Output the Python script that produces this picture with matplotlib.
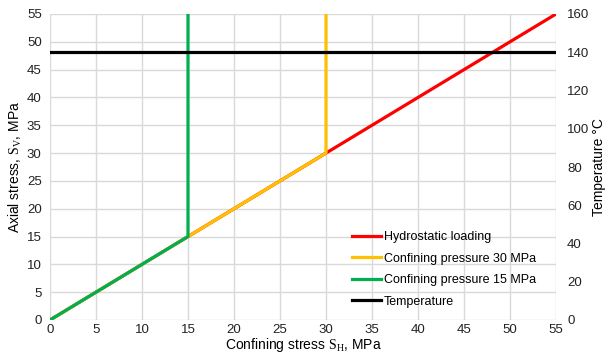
import matplotlib
matplotlib.use("Agg")
import matplotlib.pyplot as plt

plt.rcParams['font.family'] = ['Liberation Sans', 'DejaVu Sans']
plt.rcParams['mathtext.fontset'] = 'custom'
plt.rcParams['mathtext.rm'] = 'Liberation Serif'

# data
hydro_x = [0, 55]
hydro_y = [0, 55]
cp30_x = [0, 30, 30]
cp30_y = [0, 30, 55]
cp15_x = [0, 15, 15]
cp15_y = [0, 15, 55]
temp_x = [0, 55]
temp_y = [140, 140]

stress_ticks = list(range(0, 60, 5))
temp_ticks = list(range(0, 180, 20))

fig = plt.figure(figsize=(6.05, 3.6), dpi=100)
ax = fig.add_axes([50/605, 1 - 320/360, 506/605, 306/360])
ax2 = ax.twinx()

lw = 2.3
grid_c = '#D9D9D9'
l1, = ax.plot(hydro_x, hydro_y, color='#FF0000', lw=lw, label='Hydrostatic loading')
l2, = ax.plot(cp30_x, cp30_y, color='#FFC000', lw=lw, label='Confining pressure 30 MPa')
l3, = ax.plot(cp15_x, cp15_y, color='#00B050', lw=lw, label='Confining pressure 15 MPa')
l4, = ax2.plot(temp_x, temp_y, color='black', lw=lw, label='Temperature')

ax.set_xlim(0, 55)
ax.set_ylim(0, 55)
ax2.set_ylim(0, 160)
ax.set_xticks(stress_ticks)
ax.set_yticks(stress_ticks)
ax2.set_yticks(temp_ticks)
ax.grid(True, color=grid_c, lw=1)
ax.set_axisbelow(True)

for a in (ax, ax2):
    for s in a.spines.values():
        s.set_visible(False)
    a.tick_params(length=0, labelsize=9.5, colors='#222222')
ax.tick_params(axis='x', pad=3)
ax.tick_params(axis='y', pad=6)
ax2.tick_params(axis='y', pad=8)

ax.set_xlabel(r'Confining stress $\mathrm{S_H}$, MPa', fontsize=10, labelpad=0)
ax.set_ylabel(r'Axial stress, $\mathrm{S_V}$, MPa', fontsize=10, labelpad=2)
ax2.set_ylabel('Temperature °C', fontsize=10, labelpad=2)

ax2.legend(handles=[l1, l2, l3, l4], loc='upper left', bbox_to_anchor=(0.585, 0.31),
           frameon=False, fontsize=9, handlelength=2.3, handletextpad=0.2,
           labelspacing=0.75, borderpad=0)

fig.savefig('out.png', dpi=100)
